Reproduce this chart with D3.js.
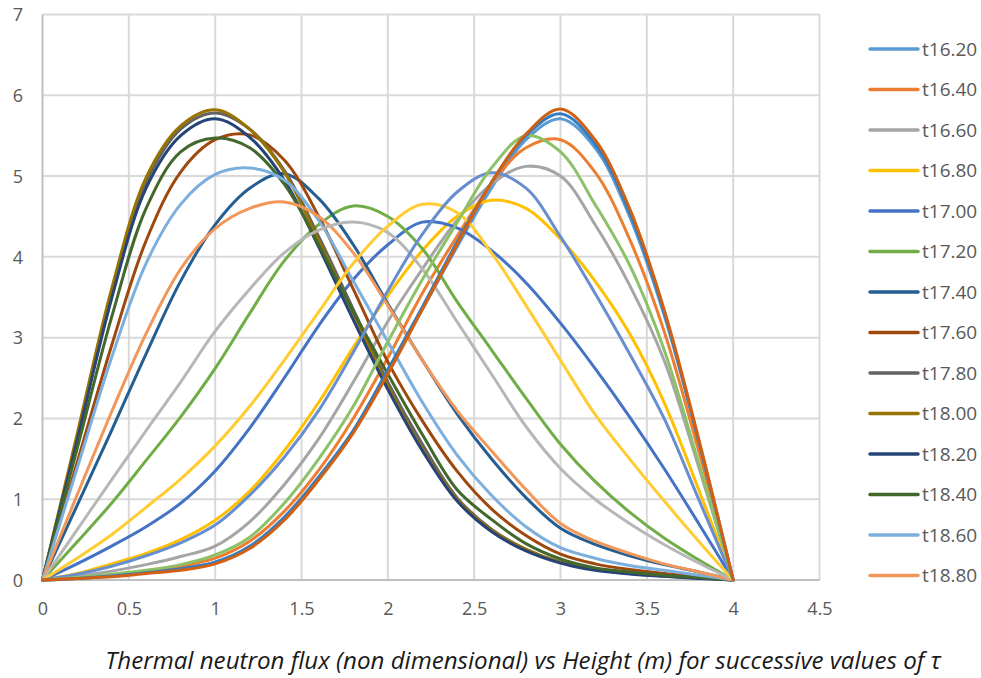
<!DOCTYPE html>
<html>
<head>
<meta charset="utf-8">
<script src="https://cdn.jsdelivr.net/npm/d3@7"></script>
<style>
  html, body { margin: 0; padding: 0; background: #fff; }
  svg { display: block; }
  .tick-label { font-family: "Open Sans", sans-serif; fill: #595959; }
  .legend-text { font-family: "Open Sans", sans-serif; fill: #595959; }
  .chart-title { font-family: "Open Sans", sans-serif; font-style: italic; fill: #1a1a1a; }
</style>
</head>
<body>
<div class="chart"></div>
<script>
// data (x in metres, step 0.2)
var heights = [0, 0.2, 0.4, 0.6, 0.8, 1.0, 1.2, 1.4, 1.6, 1.8, 2.0, 2.2, 2.4, 2.6, 2.8, 3.0, 3.2, 3.4, 3.6, 3.8, 4.0];

var t1620 = [0, 0.02, 0.05, 0.09, 0.14, 0.22, 0.42, 0.78, 1.28, 1.85, 2.6, 3.35, 4.12, 4.85, 5.45, 5.71, 5.35, 4.5, 3.28, 1.72, 0];
var t1640 = [0, 0.02, 0.06, 0.1, 0.17, 0.27, 0.48, 0.85, 1.36, 2.0, 2.75, 3.55, 4.25, 4.9, 5.35, 5.45, 5.05, 4.22, 3.08, 1.6, 0];
var t1660 = [0, 0.05, 0.11, 0.19, 0.29, 0.42, 0.72, 1.18, 1.75, 2.45, 3.2, 3.85, 4.45, 4.9, 5.12, 5.0, 4.4, 3.65, 2.72, 1.4, 0];
var t1680 = [0, 0.08, 0.2, 0.33, 0.5, 0.74, 1.1, 1.6, 2.2, 2.88, 3.52, 4.08, 4.5, 4.7, 4.6, 4.22, 3.7, 3.05, 2.2, 1.12, 0];
var t1700 = [0, 0.2, 0.42, 0.66, 0.95, 1.35, 1.88, 2.5, 3.15, 3.72, 4.15, 4.43, 4.36, 4.08, 3.68, 3.18, 2.62, 2.02, 1.38, 0.7, 0];
var t1720 = [0, 0.47, 0.95, 1.48, 2.02, 2.62, 3.3, 3.95, 4.4, 4.63, 4.5, 4.1, 3.45, 2.85, 2.25, 1.68, 1.22, 0.84, 0.52, 0.25, 0];
var t1740 = [0, 0.92, 1.85, 2.8, 3.7, 4.4, 4.85, 5.03, 4.72, 4.15, 3.42, 2.72, 2.06, 1.5, 1.02, 0.64, 0.44, 0.3, 0.19, 0.1, 0];
var t1760 = [0, 1.45, 2.9, 4.2, 5.05, 5.45, 5.51, 5.2, 4.5, 3.6, 2.7, 1.97, 1.35, 0.88, 0.55, 0.32, 0.2, 0.13, 0.08, 0.04, 0];
var t1780 = [0, 1.75, 3.52, 4.92, 5.58, 5.78, 5.58, 5.07, 4.25, 3.35, 2.45, 1.68, 1.02, 0.63, 0.38, 0.22, 0.14, 0.09, 0.05, 0.025, 0];
var t1800 = [0, 1.8, 3.6, 4.98, 5.62, 5.82, 5.58, 5.05, 4.2, 3.3, 2.4, 1.62, 1.0, 0.62, 0.38, 0.22, 0.13, 0.08, 0.05, 0.025, 0];
var t1820 = [0, 1.72, 3.48, 4.85, 5.5, 5.71, 5.48, 4.95, 4.12, 3.22, 2.36, 1.6, 0.98, 0.6, 0.36, 0.21, 0.12, 0.075, 0.045, 0.02, 0];
var t1840 = [0, 1.62, 3.25, 4.6, 5.3, 5.47, 5.35, 4.9, 4.15, 3.32, 2.55, 1.8, 1.12, 0.75, 0.45, 0.26, 0.15, 0.1, 0.06, 0.03, 0];
var t1860 = [0, 1.38, 2.75, 3.92, 4.65, 5.02, 5.1, 4.95, 4.45, 3.7, 2.95, 2.2, 1.55, 1.05, 0.66, 0.4, 0.27, 0.18, 0.12, 0.06, 0];
var t1880 = [0, 1.05, 2.08, 3.05, 3.85, 4.35, 4.6, 4.68, 4.5, 4.05, 3.4, 2.72, 2.1, 1.6, 1.12, 0.7, 0.48, 0.33, 0.2, 0.1, 0];
var t1900 = [0, 0.62, 1.24, 1.85, 2.45, 3.08, 3.6, 4.05, 4.33, 4.43, 4.3, 3.85, 3.2, 2.55, 1.9, 1.38, 1.0, 0.7, 0.44, 0.21, 0];
var t1920 = [0, 0.27, 0.56, 0.9, 1.25, 1.66, 2.15, 2.72, 3.32, 3.92, 4.38, 4.65, 4.55, 4.05, 3.4, 2.72, 2.05, 1.5, 0.98, 0.48, 0];
var t1940 = [0, 0.07, 0.17, 0.3, 0.46, 0.68, 1.05, 1.52, 2.1, 2.82, 3.58, 4.28, 4.8, 5.04, 4.85, 4.25, 3.55, 2.8, 2.0, 1.0, 0];
var t1960 = [0, 0.03, 0.07, 0.12, 0.19, 0.31, 0.53, 0.95, 1.5, 2.15, 2.95, 3.72, 4.42, 5.1, 5.5, 5.3, 4.65, 3.9, 2.85, 1.45, 0];
var t1980 = [0, 0.02, 0.05, 0.09, 0.14, 0.22, 0.41, 0.77, 1.27, 1.85, 2.6, 3.38, 4.18, 4.92, 5.5, 5.77, 5.4, 4.55, 3.32, 1.72, 0];
var t2000 = [0, 0.02, 0.04, 0.08, 0.12, 0.2, 0.39, 0.74, 1.24, 1.82, 2.55, 3.35, 4.15, 4.92, 5.52, 5.83, 5.45, 4.6, 3.35, 1.75, 0];

var seriesNames = ['t16.20', 't16.40', 't16.60', 't16.80', 't17.00', 't17.20', 't17.40', 't17.60', 't17.80', 't18.00',
                   't18.20', 't18.40', 't18.60', 't18.80', 't19.00', 't19.20', 't19.40', 't19.60', 't19.80', 't20.00'];
var seriesValues = [t1620, t1640, t1660, t1680, t1700, t1720, t1740, t1760, t1780, t1800,
                    t1820, t1840, t1860, t1880, t1900, t1920, t1940, t1960, t1980, t2000];
// office 2013 palette, then darker and lighter variants
var seriesColors = ['#5B9BD5', '#ED7D31', '#A5A5A5', '#FFC000', '#4472C4', '#70AD47',
                    '#255E91', '#9E480E', '#636363', '#997300', '#264478', '#43682B',
                    '#7CAFDD', '#F1975A', '#B7B7B7', '#FFCD33', '#698ED0', '#8CC168',
                    '#327DC2', '#D26012'];

var xTicks = [0, 0.5, 1, 1.5, 2, 2.5, 3, 3.5, 4, 4.5];
var yTicks = [0, 1, 2, 3, 4, 5, 6, 7];
var legendCount = 14; // the legend in the original only shows the first 14
var titleText = 'Thermal neutron flux (non dimensional) vs Height (m) for successive values of \u03C4';

var width = 981;
var height = 678;

var svg = d3.select('.chart').append('svg')
  .attr('width', width)
  .attr('height', height);

var x = d3.scaleLinear().domain([0, 4.5]).range([42.5, 819.5]);
var y = d3.scaleLinear().domain([0, 7]).range([580, 14.5]);

// gridlines
svg.append('g').selectAll('line.vgrid')
  .data(xTicks.filter(function (d) { return d > 0; }))
  .enter().append('line')
  .attr('x1', function (d) { return x(d); })
  .attr('x2', function (d) { return x(d); })
  .attr('y1', y(0)).attr('y2', y(7))
  .attr('stroke', '#D9D9D9').attr('stroke-width', 2);

svg.append('g').selectAll('line.hgrid')
  .data(yTicks.filter(function (d) { return d > 0; }))
  .enter().append('line')
  .attr('x1', x(0)).attr('x2', x(4.5))
  .attr('y1', function (d) { return y(d); })
  .attr('y2', function (d) { return y(d); })
  .attr('stroke', '#D9D9D9').attr('stroke-width', 2);

// axis lines
svg.append('line')
  .attr('x1', x(0)).attr('x2', x(0)).attr('y1', y(0)).attr('y2', y(7))
  .attr('stroke', '#BFBFBF').attr('stroke-width', 2);
svg.append('line')
  .attr('x1', x(0)).attr('x2', x(4.5)).attr('y1', y(0)).attr('y2', y(0))
  .attr('stroke', '#BFBFBF').attr('stroke-width', 2);

// tick labels
var xAxis = d3.axisBottom(x).tickValues(xTicks).tickSize(0).tickPadding(0).tickFormat(d3.format(''));
var gx = svg.append('g').attr('transform', 'translate(0,' + 615 + ')').call(xAxis);
gx.select('.domain').remove();
gx.selectAll('text').attr('class', 'tick-label').attr('dy', 0).style('font-size', '18px');

var yAxis = d3.axisLeft(y).tickValues(yTicks).tickSize(0).tickPadding(0).tickFormat(d3.format(''));
var gy = svg.append('g').attr('transform', 'translate(23,0)').call(yAxis);
gy.select('.domain').remove();
gy.selectAll('text').attr('class', 'tick-label').attr('dy', '0.35em').style('font-size', '18px');

// series
var line = d3.line()
  .x(function (d, i) { return x(heights[i]); })
  .y(function (d) { return y(d); })
  .curve(d3.curveCatmullRom.alpha(0.5));

svg.append('g').selectAll('path.series')
  .data(seriesValues)
  .enter().append('path')
  .attr('class', 'series')
  .attr('d', function (d) { return line(d); })
  .attr('fill', 'none')
  .attr('stroke', function (d, i) { return seriesColors[i]; })
  .attr('stroke-width', 3)
  .attr('stroke-linecap', 'round')
  .attr('stroke-linejoin', 'round');

// legend
var legendGroup = svg.append('g');
var legendItems = legendGroup.selectAll('g.item')
  .data(seriesNames.slice(0, legendCount))
  .enter().append('g')
  .attr('transform', function (d, i) { return 'translate(870,' + (49 + i * 40.5) + ')'; });

legendItems.append('line')
  .attr('x1', 0).attr('x2', 48).attr('y1', 0).attr('y2', 0)
  .attr('stroke', function (d, i) { return seriesColors[i]; })
  .attr('stroke-width', 3.5)
  .attr('stroke-linecap', 'round');

legendItems.append('text')
  .attr('class', 'legend-text')
  .attr('x', 52)
  .attr('dy', '0.36em')
  .style('font-size', '19px')
  .text(function (d) { return d; });

// title under the plot, stretched to the original width
var title = svg.append('text')
  .attr('class', 'chart-title')
  .attr('x', 523)
  .attr('y', 669)
  .attr('text-anchor', 'middle')
  .style('font-size', '20px')
  .text(titleText);
var tw = title.node().getComputedTextLength();
title.style('font-size', (20 * 836 / tw).toFixed(2) + 'px');
</script>
</body>
</html>
